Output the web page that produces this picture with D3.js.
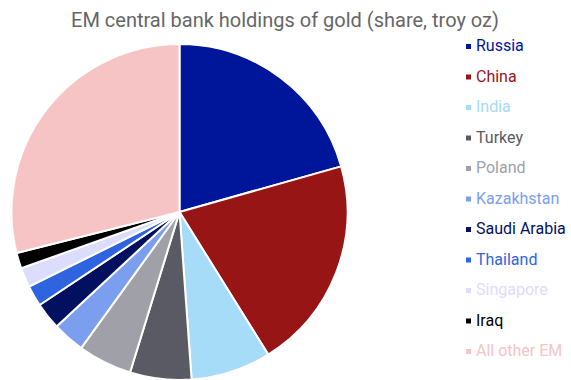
<!DOCTYPE html>
<html>
<head>
<meta charset="utf-8">
<script src="https://cdn.jsdelivr.net/npm/d3@7/dist/d3.min.js"></script>
<style>
  html, body { margin: 0; padding: 0; background: #fff; }
  svg { display: block; font-family: Roboto, "Liberation Sans", sans-serif; }
</style>
</head>
<body>
<svg id="chart" width="571" height="380"></svg>
<script>
// Share of EM central bank gold holdings (troy oz), percent
const countries = ["Russia", "China", "India", "Turkey", "Poland", "Kazakhstan",
                   "Saudi Arabia", "Thailand", "Singapore", "Iraq", "All other EM"];
const shares = [20.6, 20.5, 7.7, 5.9, 5.2, 3.1, 2.6, 2.0, 1.9, 1.5, 28.9];
const colours = ["#00169a", "#981515", "#a6dcf8", "#5a5a65", "#a0a0a8", "#7b9eee",
                 "#02105f", "#2e64df", "#dcdcfd", "#000000", "#f6c4c4"];

const svg = d3.select("#chart");
const data = countries.map((name, i) => ({ name, value: shares[i], colour: colours[i] }));

svg.append("text")
  .attr("x", 285).attr("y", 27)
  .attr("text-anchor", "middle")
  .attr("font-size", 20)
  .attr("fill", "#666666")
  .text("EM central bank holdings of gold (share, troy oz)");

const cx = 179.5, cy = 212, r = 168;
const pie = d3.pie().value(d => d.value).sort(null);
const arc = d3.arc().innerRadius(0).outerRadius(r);

svg.append("g")
  .attr("transform", `translate(${cx},${cy})`)
  .selectAll("path")
  .data(pie(data))
  .join("path")
  .attr("d", arc)
  .attr("fill", d => d.data.colour)
  .attr("stroke", "#ffffff")
  .attr("stroke-width", 2)
  .attr("stroke-linejoin", "round");

// Legend
const legendY = d3.scalePoint().domain(countries).range([51, 356]);
const legend = svg.append("g");
const rows = legend.selectAll("g").data(data).join("g")
  .attr("transform", d => `translate(466,${legendY(d.name)})`);
rows.append("rect")
  .attr("x", 0).attr("y", -7).attr("width", 5).attr("height", 5)
  .attr("fill", d => d.colour);
rows.append("text")
  .attr("x", 10).attr("y", 0)
  .attr("font-size", 16)
  .attr("fill", d => d.colour)
  .text(d => d.name);
</script>
</body>
</html>
